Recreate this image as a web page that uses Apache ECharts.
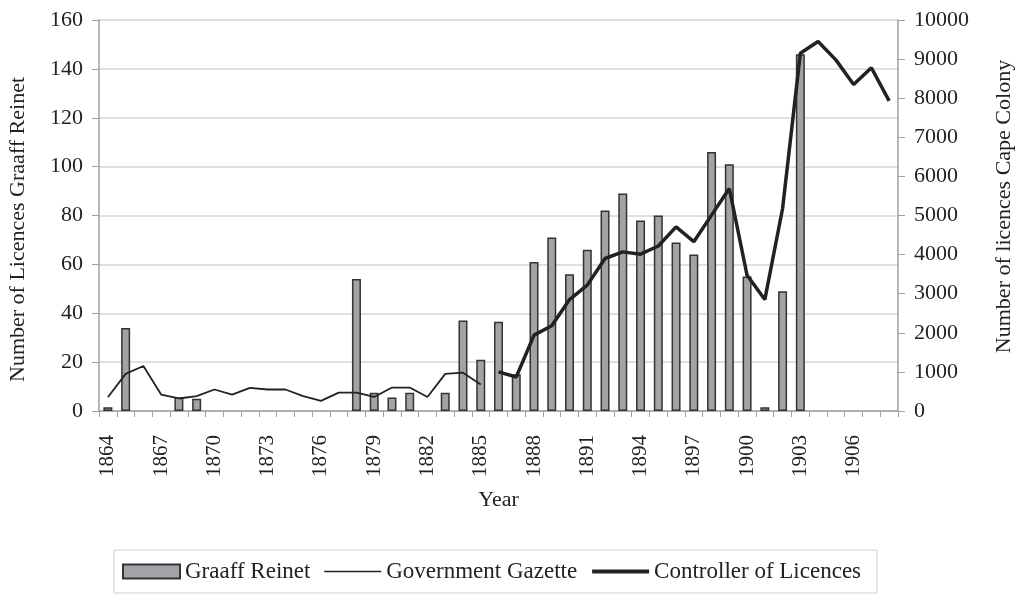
<!DOCTYPE html>
<html>
<head>
<meta charset="utf-8">
<script src="https://cdn.jsdelivr.net/npm/echarts@6/dist/echarts.min.js"></script>
<style>
  html, body { margin: 0; padding: 0; background: #fff; }
  #chart { width: 1018px; height: 594px; }
</style>
</head>
<body>
<div id="chart"></div>
<script>
const years = []
for (let y = 1864; y <= 1908; y++) years.push(String(y))

// bars, left axis (Graaff Reinet licences), 1864..1908
const graaffReinet = [
  1.5, 34, null, null, 5.5, 5, null, null, null, null,
  null, null, null, null, 54, 7.5, 5.5, 7.5, null, 7.5,
  37, 21, 36.5, 15, 61, 71, 56, 66, 82, 89,
  78, 80, 69, 64, 106, 101, 55, 1.5, 49, 146,
  null, null, null, null, null
]

// thin line, right axis, 1864..1885
const govGazette = [
  350, 950, 1150, 420, 320, 380, 550, 420, 590, 550,
  550, 380, 260, 470, 470, 360, 600, 600, 360, 950,
  980, 680
]

// thick line, right axis, 1886..1908
const controller = [
  1000, 870, 1940, 2180, 2850, 3220, 3900, 4070, 4010, 4220,
  4710, 4330, 5010, 5690, 3470, 2850, 5180, 9150, 9450, 8980,
  8350, 8780, 7930
]

const gazetteData = years.map((y, i) => i < govGazette.length ? govGazette[i] : null)
const ctrlStart = years.indexOf('1886')
const controllerData = years.map((y, i) => i >= ctrlStart ? controller[i - ctrlStart] : null)

const FONT = '"Liberation Serif", "DejaVu Serif", serif'
const TXT = '#222'
const AXIS = '#a0a0a0'

const myChart = echarts.init(document.getElementById('chart'), null, { renderer: 'canvas' })

const option = {
  animation: false,
  textStyle: { fontFamily: FONT, color: TXT },
  grid: { left: 99, right: 120, top: 20, bottom: 183, containLabel: false, outerBoundsMode: 'none' },
  legend: {
    bottom: 1,
    left: 114,
    padding: [10, 16, 10, 8],
    borderColor: '#cfcfcf',
    borderWidth: 1,
    itemGap: 13,
    itemWidth: 57,
    itemHeight: 14,
    textStyle: { fontFamily: FONT, fontSize: 23, color: TXT },
    data: [
      { name: 'Graaff Reinet', icon: 'rect', itemStyle: { color: '#a3a3a7', borderColor: '#333', borderWidth: 2 } },
      { name: 'Government Gazette', itemStyle: { color: 'rgba(0,0,0,0)', borderWidth: 0 }, lineStyle: { color: '#222', width: 1.6 } },
      { name: 'Controller of Licences', itemStyle: { color: 'rgba(0,0,0,0)', borderWidth: 0 }, lineStyle: { color: '#222', width: 4 } }
    ]
  },
  xAxis: {
    type: 'category',
    data: years,
    name: 'Year',
    nameLocation: 'middle',
    nameGap: 78,
    nameTextStyle: { fontFamily: FONT, fontSize: 22, color: TXT },
    axisLine: { lineStyle: { color: AXIS, width: 1.5 } },
    axisTick: { show: true, interval: 0, length: 6, lineStyle: { color: AXIS } },
    axisLabel: { interval: 2, rotate: 90, fontFamily: FONT, fontSize: 21, color: TXT, margin: 24 }
  },
  yAxis: [
    {
      type: 'value',
      min: 0, max: 160, interval: 20,
      position: 'left',
      name: 'Number of Licences Graaff Reinet',
      nameLocation: 'middle',
      nameRotate: 90,
      nameGap: 70,
      nameTextStyle: { fontFamily: FONT, fontSize: 22, color: TXT, padding: [0, 28, 0, 0] },
      axisLine: { show: true, lineStyle: { color: AXIS, width: 1.5 } },
      axisTick: { show: true, length: 7, lineStyle: { color: AXIS } },
      axisLabel: { fontFamily: FONT, fontSize: 22, color: TXT, margin: 16 },
      splitLine: { show: true, lineStyle: { color: '#d4d4d4', width: 1.5 } }
    },
    {
      type: 'value',
      min: 0, max: 10000, interval: 1000,
      position: 'right',
      name: 'Number of licences Cape Colony',
      nameLocation: 'middle',
      nameRotate: 90,
      nameGap: 95,
      nameTextStyle: { fontFamily: FONT, fontSize: 22, color: TXT, padding: [0, 0, 0, 18] },
      axisLine: { show: true, lineStyle: { color: AXIS, width: 1.5 } },
      axisTick: { show: true, length: 7, lineStyle: { color: AXIS } },
      axisLabel: { fontFamily: FONT, fontSize: 22, color: TXT, margin: 16, formatter: v => String(v) },
      splitLine: { show: false }
    }
  ],
  series: [
    {
      name: 'Graaff Reinet',
      type: 'bar',
      yAxisIndex: 0,
      barWidth: 9,
      data: graaffReinet,
      itemStyle: { color: '#a3a3a7', borderColor: '#333', borderWidth: 1.5 }
    },
    {
      name: 'Government Gazette',
      type: 'line',
      yAxisIndex: 1,
      symbol: 'none',
      connectNulls: false,
      data: gazetteData,
      lineStyle: { color: '#222', width: 1.8 },
      itemStyle: { color: '#222' }
    },
    {
      name: 'Controller of Licences',
      type: 'line',
      yAxisIndex: 1,
      symbol: 'none',
      connectNulls: false,
      data: controllerData,
      lineStyle: { color: '#222', width: 3.5 },
      itemStyle: { color: '#222' }
    }
  ]
}

myChart.setOption(option)
</script>
</body>
</html>
